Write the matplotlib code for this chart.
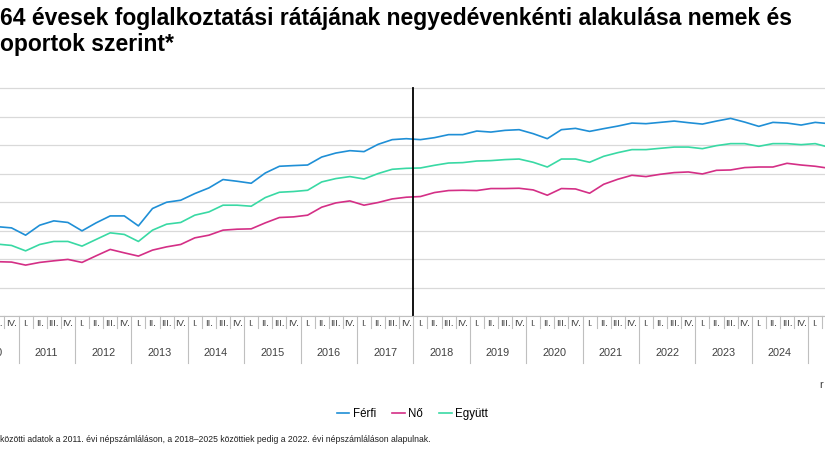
import matplotlib.pyplot as plt
from matplotlib.lines import Line2D

# --- DATA (quarterly, 2010 Q3 .. 2025 Q2) ---
years = list(range(2010, 2026))
quarter_names = ["I.", "II.", "III.", "IV."]
first_quarter = 3  # series start in 2010 Q3

ferfi = [60.67, 60.46,
         59.18, 60.93, 61.69, 61.41,
         59.94, 61.34, 62.56, 62.56,
         60.81, 63.86, 64.96, 65.31,
         66.48, 67.47, 68.94, 68.64,
         68.29, 70.09, 71.27, 71.39,
         71.49, 72.89, 73.59, 74.01,
         73.84, 75.12, 75.94, 76.11,
         75.94, 76.29, 76.82, 76.82,
         77.45, 77.27, 77.57, 77.69,
         76.99, 76.11, 77.69, 77.92,
         77.39, 77.87, 78.32, 78.85,
         78.74, 78.97, 79.20, 78.92,
         78.67, 79.20, 79.67, 79.02,
         78.27, 78.97, 78.85, 78.50,
         78.97, 78.74]
no = [54.53, 54.46,
      53.93, 54.40, 54.68, 54.93,
      54.40, 55.56, 56.68, 56.08,
      55.51, 56.56, 57.13, 57.55,
      58.71, 59.18, 60.06, 60.23,
      60.29, 61.34, 62.28, 62.39,
      62.69, 64.09, 64.84, 65.19,
      64.44, 64.91, 65.54, 65.84,
      65.96, 66.66, 67.01, 67.06,
      67.01, 67.36, 67.36, 67.41,
      67.12, 66.19, 67.36, 67.29,
      66.54, 68.11, 68.99, 69.69,
      69.46, 69.86, 70.16, 70.27,
      69.92, 70.56, 70.62, 71.04,
      71.14, 71.14, 71.79, 71.49,
      71.27, 70.91]
egyutt = [57.61, 57.38,
          56.43, 57.55, 58.08, 58.08,
          57.26, 58.43, 59.59, 59.31,
          58.08, 60.06, 61.11, 61.41,
          62.69, 63.26, 64.44, 64.44,
          64.26, 65.78, 66.71, 66.84,
          67.06, 68.52, 69.11, 69.46,
          69.04, 69.99, 70.74, 70.91,
          70.97, 71.44, 71.84, 71.91,
          72.19, 72.26, 72.44, 72.54,
          71.97, 71.14, 72.54, 72.54,
          71.97, 73.02, 73.66, 74.19,
          74.19, 74.42, 74.64, 74.64,
          74.36, 74.89, 75.24, 75.24,
          74.77, 75.24, 75.24, 75.06,
          75.24, 74.59]

title_1 = "64 évesek foglalkoztatási rátájának negyedévenkénti alakulása nemek és"
title_2 = "oportok szerint*"
footnote = ("közötti adatok a 2011. évi népszámláláson, a 2018–2025 közöttiek pedig "
            "a 2022. évi népszámláláson alapulnak.")

col_ferfi = "#1f8fd6"
col_no = "#d42f86"
col_egyutt = "#39d9a4"
grid_col = "#d9d9d9"

plt.rcParams['font.family'] = ['Liberation Sans', 'DejaVu Sans']

fig = plt.figure(figsize=(8.25, 4.5), dpi=100)
W, H = 825, 450
ax_bottom_px, ax_top_px = 316, 86.3
ax = fig.add_axes([0, 1 - ax_bottom_px / H, 1, (ax_bottom_px - ax_top_px) / H])
ax_h = ax_bottom_px - ax_top_px

x = list(range(len(ferfi)))
ax.plot(x, ferfi, color=col_ferfi, lw=1.2, label="Férfi")
ax.plot(x, no, color=col_no, lw=1.2, label="Nő")
ax.plot(x, egyutt, color=col_egyutt, lw=1.2, label="Együtt")

# x pixel = -2.6 + 14.1 * i
ax.set_xlim(2.6 / 14.1, 827.6 / 14.1)
ax.set_ylim(45, 85.3)
ax.set_yticks(range(45, 90, 5))
ax.tick_params(left=False, labelleft=False, bottom=False, labelbottom=False)
ax.grid(axis='y', color=grid_col, lw=0.9)
ax.set_axisbelow(True)
for s in ["top", "left", "right"]:
    ax.spines[s].set_visible(False)
ax.spines["bottom"].set_color("#bfbfbf")

# break between census bases
ax.plot([29.5, 29.5], [45, 85], color="black", lw=1.3)

# --- multi level category axis ---
tr = ax.get_xaxis_transform()
n_total = len(ferfi)
for k in range(-1, n_total + 1):
    qi = (first_quarter - 1 + k) % 4
    ax.text(k, -8 / ax_h, quarter_names[qi], transform=tr, fontsize=6.8,
            ha="center", va="center", color="#404040", clip_on=False)
    edge = k + 0.5
    is_year = (first_quarter - 1 + k + 1) % 4 == 0
    depth = 47 if is_year else 12
    ax.add_line(Line2D([edge, edge], [0, -depth / ax_h], transform=tr,
                       color="#bfbfbf", lw=0.8, clip_on=False))
for y in years:
    start = (y - 2010) * 4 - (first_quarter - 1)
    ax.text(start + 1.5, -37 / ax_h, str(y), transform=tr, fontsize=7.8,
            ha="center", va="center", color="#404040", clip_on=False)

fig.text(819 / W, 1 - 385 / H, "r", fontsize=8, ha="left", va="center", color="#404040")

fig.text(0, 1 - 18 / H, title_1, fontsize=16.5, fontweight="bold", ha="left", va="center")
fig.text(0, 1 - 45 / H, title_2, fontsize=16.5, fontweight="bold", ha="left", va="center")

fig.legend(loc="center", bbox_to_anchor=(412.5 / W, 1 - 414 / H), ncol=3, frameon=False,
           fontsize=8.3, handlelength=1.1, columnspacing=1.4, handletextpad=0.3)

fig.text(0, 1 - 440 / H, footnote, fontsize=6.25, ha="left", va="center", color="#202020")

fig.savefig("out.png", dpi=100)
